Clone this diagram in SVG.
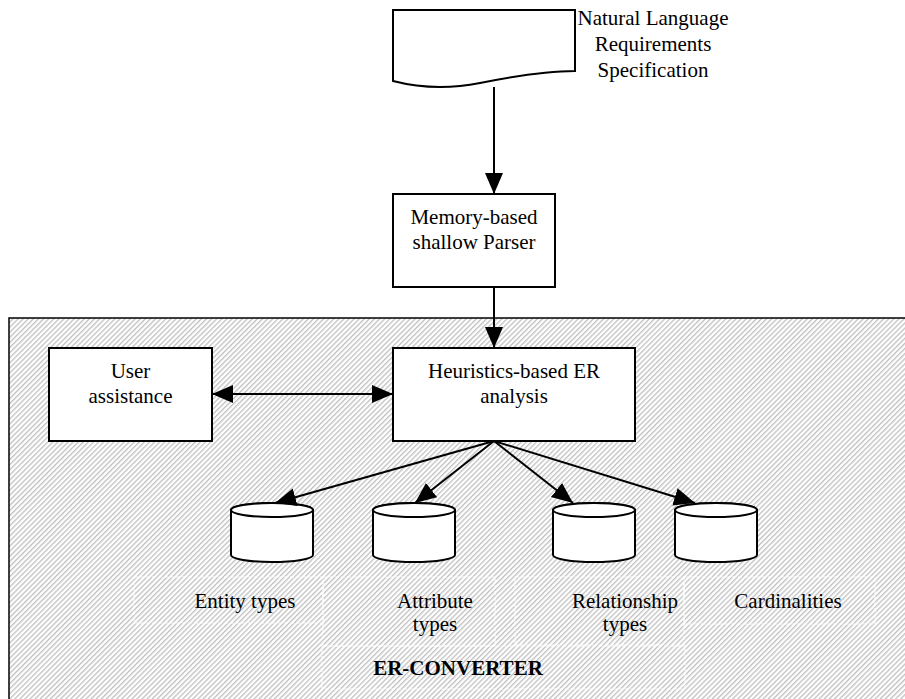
<svg xmlns="http://www.w3.org/2000/svg" width="905" height="699" viewBox="0 0 905 699">
<style>
.t{font-family:"Liberation Serif","Times New Roman",serif;font-size:21px;fill:#000;text-anchor:middle}
.b{font-weight:bold}
.box{fill:#fff;stroke:#000;stroke-width:2}
.ln{stroke:#000;stroke-width:2;fill:none}
.cyl{fill:#fff;stroke:#000;stroke-width:2}
.dash{fill:none;stroke:#fff;stroke-width:1.2;stroke-dasharray:4 2;opacity:0.85}
</style>
<defs>
<pattern id="hatch" width="3.6" height="10" patternUnits="userSpaceOnUse" patternTransform="rotate(45)">
<rect x="0" y="0" width="1.3" height="10" fill="#c0c0c0"/>
</pattern>
<marker id="ah" markerUnits="userSpaceOnUse" markerWidth="24" markerHeight="20" refX="21" refY="9" orient="auto-start-reverse">
<path d="M0,0 L21,9 L0,18 z" fill="#000"/>
</marker>
</defs>

<g id="er-converter">
<rect x="9" y="318" width="910" height="400" fill="url(#hatch)" stroke="#000" stroke-width="1.5"/>
</g>

<g id="label-boxes">
<rect class="dash" x="134" y="577" width="189" height="46"/>
<rect class="dash" x="323" y="577" width="172" height="69"/>
<rect class="dash" x="515" y="577" width="169" height="68"/>
<rect class="dash" x="684" y="577" width="191" height="47"/>
<rect class="dash" x="322" y="646" width="363" height="43"/>
</g>

<g id="nl-spec">
<path class="box" d="M393,10 H575 V71 C548,71 515,76 480,83 C450,89 420,88 393,81 Z"/>
<text class="t" x="653" y="25">Natural Language</text>
<text class="t" x="653" y="51">Requirements</text>
<text class="t" x="653" y="77">Specification</text>
</g>

<g id="parser">
<rect class="box" x="393" y="194" width="162" height="93"/>
<text class="t" x="474" y="224">Memory-based</text>
<text class="t" x="474" y="249">shallow Parser</text>
</g>

<g id="user-assistance">
<rect class="box" x="49" y="348" width="163" height="93"/>
<text class="t" x="130.5" y="378">User</text>
<text class="t" x="130.5" y="403">assistance</text>
</g>

<g id="heuristics">
<rect class="box" x="393" y="348" width="242" height="93"/>
<text class="t" x="514" y="378">Heuristics-based ER</text>
<text class="t" x="514" y="403">analysis</text>
</g>

<g id="entity-types">
<path class="cyl" d="M231,510 V555 A41,7 0 0 0 313,555 V510 A41,7 0 0 0 231,510 Z"/>
<ellipse class="cyl" cx="272" cy="510" rx="41" ry="7"/>
<text class="t" x="245" y="608">Entity types</text>
</g>

<g id="attribute-types">
<path class="cyl" d="M373,510 V555 A41,7 0 0 0 455,555 V510 A41,7 0 0 0 373,510 Z"/>
<ellipse class="cyl" cx="414" cy="510" rx="41" ry="7"/>
<text class="t" x="435" y="608">Attribute</text>
<text class="t" x="435" y="631">types</text>
</g>

<g id="relationship-types">
<path class="cyl" d="M553,510 V555 A41,7 0 0 0 635,555 V510 A41,7 0 0 0 553,510 Z"/>
<ellipse class="cyl" cx="594" cy="510" rx="41" ry="7"/>
<text class="t" x="625" y="608">Relationship</text>
<text class="t" x="625" y="631">types</text>
</g>

<g id="cardinalities">
<path class="cyl" d="M675,510 V555 A41,7 0 0 0 757,555 V510 A41,7 0 0 0 675,510 Z"/>
<ellipse class="cyl" cx="716" cy="510" rx="41" ry="7"/>
<text class="t" x="788" y="608">Cardinalities</text>
</g>

<g id="er-label">
<text class="t b" x="458" y="675">ER-CONVERTER</text>
</g>

<g id="connectors">
<line class="ln" x1="494" y1="87" x2="494" y2="194" marker-end="url(#ah)"/>
<line class="ln" x1="494" y1="287" x2="494" y2="348" marker-end="url(#ah)"/>
<line class="ln" x1="212" y1="394" x2="393" y2="394" marker-start="url(#ah)" marker-end="url(#ah)"/>
<line class="ln" x1="494" y1="441" x2="275" y2="503" marker-end="url(#ah)"/>
<line class="ln" x1="494" y1="441" x2="415" y2="503" marker-end="url(#ah)"/>
<line class="ln" x1="494" y1="441" x2="573" y2="503" marker-end="url(#ah)"/>
<line class="ln" x1="494" y1="441" x2="695" y2="503" marker-end="url(#ah)"/>
</g>
</svg>
